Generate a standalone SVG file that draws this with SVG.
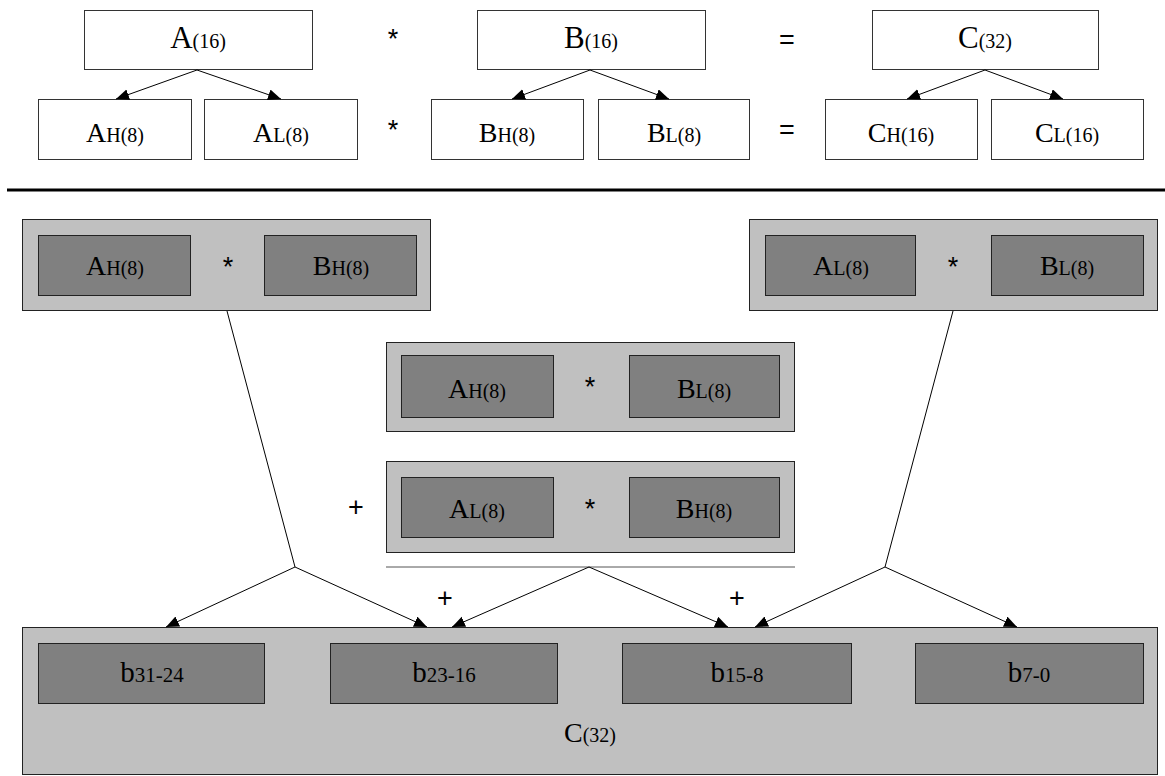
<svg xmlns="http://www.w3.org/2000/svg" width="1165" height="776" viewBox="0 0 1165 776">
<style>
.wb{fill:#fff;stroke:#333;stroke-width:1}
.lg{fill:#c0c0c0;stroke:#222;stroke-width:1}
.dg{fill:#808080;stroke:#222;stroke-width:1}
.t{font-family:"Liberation Serif",serif;font-size:28px;fill:#000;text-anchor:middle}
.tb{font-family:"Liberation Serif",serif;font-size:31px;fill:#000;text-anchor:middle}
.s{font-size:20px}
.op{font-family:"Liberation Sans",sans-serif;font-size:27px;fill:#000;text-anchor:middle}
.ln{fill:none;stroke:#000;stroke-width:1}
.ar{fill:none;stroke:#000;stroke-width:1;marker-end:url(#ah)}
</style>
<defs>
<marker id="ah" markerUnits="userSpaceOnUse" markerWidth="14" markerHeight="12" refX="13" refY="5.5" orient="auto">
<path d="M0,0 L13,5.5 L0,11 z" fill="#000"/>
</marker>
</defs>

<g id="A16"><rect class="wb" x="84.5" y="10.5" width="228" height="59"/><text class="tb" x="198" y="48">A<tspan class="s">(16)</tspan></text></g>
<g id="B16"><rect class="wb" x="477.5" y="10.5" width="228" height="59"/><text class="tb" x="591" y="48">B<tspan class="s">(16)</tspan></text></g>
<g id="C32"><rect class="wb" x="872.5" y="10.5" width="226" height="59"/><text class="tb" x="985" y="48">C<tspan class="s">(32)</tspan></text></g>

<g id="AH8"><rect class="wb" x="38.5" y="99.5" width="153" height="60"/><text class="t" x="115" y="141.5">A<tspan class="s">H(8)</tspan></text></g>
<g id="AL8"><rect class="wb" x="204.5" y="99.5" width="153" height="60"/><text class="t" x="281" y="141.5">A<tspan class="s">L(8)</tspan></text></g>
<g id="BH8"><rect class="wb" x="431.5" y="99.5" width="152" height="60"/><text class="t" x="507" y="141.5">B<tspan class="s">H(8)</tspan></text></g>
<g id="BL8"><rect class="wb" x="598.5" y="99.5" width="151" height="60"/><text class="t" x="674" y="141.5">B<tspan class="s">L(8)</tspan></text></g>
<g id="CH16"><rect class="wb" x="825.5" y="99.5" width="152" height="60"/><text class="t" x="901" y="141.5">C<tspan class="s">H(16)</tspan></text></g>
<g id="CL16"><rect class="wb" x="991.5" y="99.5" width="152" height="60"/><text class="t" x="1067" y="141.5">C<tspan class="s">L(16)</tspan></text></g>

<g id="ops-top">
<text class="op" x="393" y="48">*</text>
<text class="op" x="393" y="139">*</text>
<text class="op" x="787" y="49">=</text>
<text class="op" x="787" y="138.5">=</text>
</g>

<g id="separator"><line x1="7" y1="190" x2="1165" y2="190" stroke="#000" stroke-width="3"/></g>

<g id="prodHH">
<rect class="lg" x="22.5" y="219.5" width="408" height="91"/>
<rect class="dg" x="38.5" y="235.5" width="152" height="60"/><text class="t" x="115" y="275">A<tspan class="s">H(8)</tspan></text>
<text class="op" x="228" y="276">*</text>
<rect class="dg" x="264.5" y="235.5" width="152" height="60"/><text class="t" x="341" y="275">B<tspan class="s">H(8)</tspan></text>
</g>

<g id="prodLL">
<rect class="lg" x="749.5" y="219.5" width="408" height="91"/>
<rect class="dg" x="765.5" y="235.5" width="150" height="60"/><text class="t" x="841" y="275">A<tspan class="s">L(8)</tspan></text>
<text class="op" x="953" y="276">*</text>
<rect class="dg" x="991.5" y="235.5" width="152" height="60"/><text class="t" x="1067" y="275">B<tspan class="s">L(8)</tspan></text>
</g>

<g id="prodHL">
<rect class="lg" x="386.5" y="342.5" width="408" height="89"/>
<rect class="dg" x="401.5" y="355.5" width="152" height="62"/><text class="t" x="477" y="398">A<tspan class="s">H(8)</tspan></text>
<text class="op" x="590" y="396">*</text>
<rect class="dg" x="629.5" y="355.5" width="150" height="62"/><text class="t" x="704" y="398">B<tspan class="s">L(8)</tspan></text>
</g>

<g id="prodLH">
<rect class="lg" x="386.5" y="461.5" width="408" height="91"/>
<rect class="dg" x="401.5" y="477.5" width="152" height="60"/><text class="t" x="477" y="518">A<tspan class="s">L(8)</tspan></text>
<text class="op" x="590" y="518">*</text>
<rect class="dg" x="629.5" y="477.5" width="150" height="60"/><text class="t" x="704" y="518">B<tspan class="s">H(8)</tspan></text>
</g>

<g id="ops-mid">
<text class="op" x="356" y="516">+</text>
<text class="op" x="445" y="607">+</text>
<text class="op" x="737" y="607">+</text>
</g>

<g id="result">
<rect class="lg" x="22.5" y="627.5" width="1135" height="147"/>
<rect class="dg" x="38.5" y="643.5" width="226" height="60"/><text class="t" x="152" y="681.5" style="font-size:29px">b<tspan style="font-size:21px">31-24</tspan></text>
<rect class="dg" x="330.5" y="643.5" width="227" height="60"/><text class="t" x="444" y="681.5" style="font-size:29px">b<tspan style="font-size:21px">23-16</tspan></text>
<rect class="dg" x="622.5" y="643.5" width="229" height="60"/><text class="t" x="737" y="681.5" style="font-size:29px">b<tspan style="font-size:21px">15-8</tspan></text>
<rect class="dg" x="915.5" y="643.5" width="228" height="60"/><text class="t" x="1029" y="681.5" style="font-size:29px">b<tspan style="font-size:21px">7-0</tspan></text>
<text class="t" x="590" y="742" style="font-size:28px">C<tspan class="s">(32)</tspan></text>
</g>

<g id="connectors">
<line class="ar" x1="197" y1="70" x2="116" y2="99"/>
<line class="ar" x1="197" y1="70" x2="281" y2="99"/>
<line class="ar" x1="590" y1="70" x2="512" y2="99"/>
<line class="ar" x1="590" y1="70" x2="669" y2="99"/>
<line class="ar" x1="985" y1="70" x2="907" y2="99"/>
<line class="ar" x1="985" y1="70" x2="1063" y2="99"/>
<line x1="386" y1="567" x2="795" y2="567" stroke="#555" stroke-width="1"/>
<line class="ln" x1="227" y1="311" x2="295" y2="567"/>
<line class="ar" x1="295" y1="567" x2="166" y2="627"/>
<line class="ar" x1="295" y1="567" x2="427" y2="627"/>
<line class="ar" x1="589" y1="567" x2="452" y2="627"/>
<line class="ar" x1="589" y1="567" x2="728" y2="627"/>
<line class="ln" x1="953" y1="311" x2="885" y2="567"/>
<line class="ar" x1="885" y1="567" x2="755" y2="627"/>
<line class="ar" x1="885" y1="567" x2="1017" y2="627"/>
</g>
</svg>
